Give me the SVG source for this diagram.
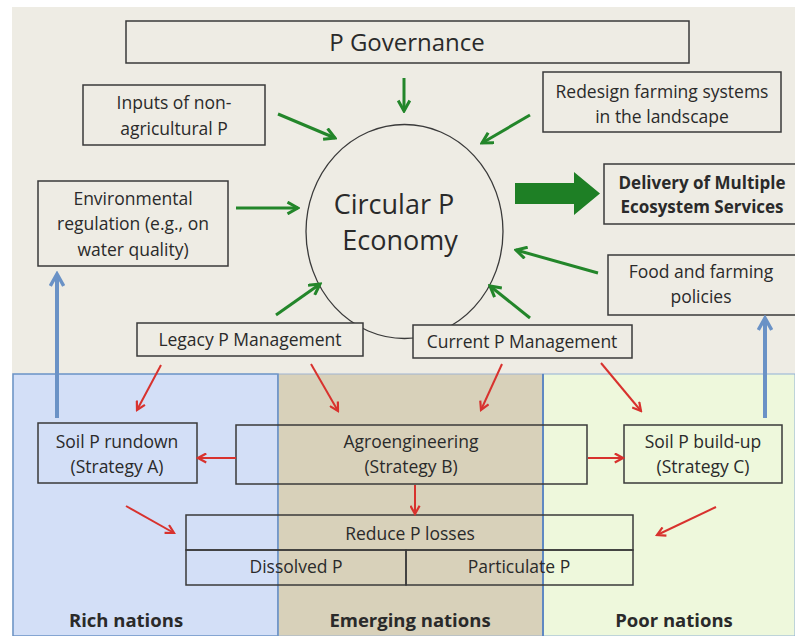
<svg xmlns="http://www.w3.org/2000/svg" width="795" height="636" viewBox="0 0 795 636">
<style>
.bx{fill:#eeece4;stroke:#3a3a3a;stroke-width:1.5}
.tb{fill:none;stroke:#3a3a3a;stroke-width:1.5}
text{font-family:"Open Sans","Liberation Sans",sans-serif;fill:#2a2a2a;text-anchor:middle}
.t{font-size:17.5px}
.b{font-size:17px;font-weight:bold}
.n{font-size:18.5px;font-weight:bold}
.g{stroke:#23862a;stroke-width:3;fill:none}
.r{stroke:#d8322e;stroke-width:2;fill:none}
.bl{stroke:#6a92c6;stroke-width:4;fill:none}
</style>
<defs>
<marker id="gh" viewBox="0 0 12 12" refX="10" refY="6" markerWidth="14" markerHeight="14" markerUnits="userSpaceOnUse" orient="auto"><path d="M1,1 L10,6 L1,11" fill="none" stroke="#23862a" stroke-width="2.6"/></marker>
<marker id="rh" viewBox="0 0 12 12" refX="10" refY="6" markerWidth="11" markerHeight="11" markerUnits="userSpaceOnUse" orient="auto"><path d="M1,1 L10,6 L1,11" fill="none" stroke="#d8322e" stroke-width="2.4"/></marker>
<marker id="bh" viewBox="0 0 12 12" refX="10" refY="6" markerWidth="16" markerHeight="16" markerUnits="userSpaceOnUse" orient="auto"><path d="M1,1 L10,6 L1,11" fill="none" stroke="#6a92c6" stroke-width="2.6"/></marker>
</defs>
<rect x="0" y="0" width="795" height="636" fill="#ffffff"/>
<rect x="12" y="7" width="783" height="629" fill="#eeece4"/>
<g id="regions">
<rect x="13" y="374" width="265" height="262" fill="#d3dff7" stroke="#6a92c6" stroke-width="1.5"/>
<rect x="278" y="374" width="265" height="262" fill="#d8d1ba" stroke="#9fb3cf" stroke-width="1"/>
<rect x="543" y="374" width="252" height="262" fill="#eef8dc" stroke="#8fb0d6" stroke-width="1"/>
<line x1="543" y1="374" x2="543" y2="636" stroke="#5f89c2" stroke-width="2"/>
<line x1="278" y1="374" x2="278" y2="636" stroke="#6a92c6" stroke-width="1.5"/>
</g>
<g id="governance"><rect class="bx" x="126" y="21" width="563" height="42"/><text x="407" y="51" font-size="24">P Governance</text></g>
<g id="inputs"><rect class="bx" x="83" y="85" width="182" height="60"/><text class="t" x="174" y="109">Inputs of non-</text><text class="t" x="174" y="135">agricultural P</text></g>
<g id="env"><rect class="bx" x="38" y="181" width="190" height="85"/><text class="t" x="133" y="205">Environmental</text><text class="t" x="133" y="230">regulation (e.g., on</text><text class="t" x="133" y="256">water quality)</text></g>
<g id="circular"><ellipse cx="404.5" cy="231.5" rx="98.5" ry="107" fill="#eeece4" stroke="#3a3a3a" stroke-width="1.3"/><text x="394" y="214" font-size="27">Circular P</text><text x="400" y="250" font-size="27">Economy</text></g>
<g id="redesign"><rect class="bx" x="543" y="72" width="238" height="60"/><text class="t" x="662" y="98">Redesign farming systems</text><text class="t" x="662" y="123">in the landscape</text></g>
<g id="delivery"><rect class="bx" x="604" y="164" width="195" height="60"/><text class="b" x="702" y="189">Delivery of Multiple</text><text class="b" x="702" y="213">Ecosystem Services</text></g>
<g id="food"><rect class="bx" x="608" y="255" width="190" height="60"/><text class="t" x="701" y="278">Food and farming</text><text class="t" x="701" y="303">policies</text></g>
<g id="legacy"><rect class="bx" x="137" y="323" width="226" height="33"/><text class="t" x="250" y="346">Legacy P Management</text></g>
<g id="current"><rect class="bx" x="413" y="325" width="219" height="33"/><text class="t" x="522" y="348">Current P Management</text></g>
<g id="soilA"><rect class="tb" x="38" y="423" width="159" height="60"/><text class="t" x="117" y="448">Soil P rundown</text><text class="t" x="117" y="473">(Strategy A)</text></g>
<g id="agro"><rect class="tb" x="236" y="425" width="351" height="59"/><text class="t" x="411" y="448">Agroengineering</text><text class="t" x="411" y="473">(Strategy B)</text></g>
<g id="soilC"><rect class="tb" x="624" y="425" width="158" height="58"/><text class="t" x="703" y="448">Soil P build-up</text><text class="t" x="703" y="473">(Strategy C)</text></g>
<g id="reduce"><rect class="tb" x="186" y="515" width="447" height="35"/><text class="t" x="410" y="540">Reduce P losses</text></g>
<g id="dissolved"><rect class="tb" x="186" y="550" width="220" height="35"/><text class="t" x="296" y="573">Dissolved P</text></g>
<g id="particulate"><rect class="tb" x="406" y="550" width="227" height="35"/><text class="t" x="519" y="573">Particulate P</text></g>
<g id="labels"><text class="n" x="126" y="627">Rich nations</text><text class="n" x="410" y="627">Emerging nations</text><text class="n" x="674" y="627">Poor nations</text></g>
<g id="connectors">
<line class="g" x1="404" y1="78" x2="404" y2="111" marker-end="url(#gh)"/>
<line class="g" x1="278" y1="114" x2="335" y2="138" marker-end="url(#gh)"/>
<line class="g" x1="530" y1="115" x2="482" y2="143" marker-end="url(#gh)"/>
<line class="g" x1="236" y1="208" x2="298" y2="208" marker-end="url(#gh)"/>
<line class="g" x1="598" y1="273" x2="516" y2="250" marker-end="url(#gh)"/>
<line class="g" x1="276" y1="315" x2="320" y2="284" marker-end="url(#gh)"/>
<line class="g" x1="530" y1="318" x2="490" y2="286" marker-end="url(#gh)"/>
<path d="M515,183 L574,183 L574,172 L600,193.5 L574,215 L574,204 L515,204 Z" fill="#1e7f25"/>
<line class="bl" x1="57" y1="418" x2="57" y2="274" marker-end="url(#bh)"/>
<line class="bl" x1="765" y1="418" x2="765" y2="318" marker-end="url(#bh)"/>
<line class="r" x1="161" y1="365" x2="137" y2="410" marker-end="url(#rh)"/>
<line class="r" x1="311" y1="364" x2="338" y2="411" marker-end="url(#rh)"/>
<line class="r" x1="502" y1="364" x2="481" y2="410" marker-end="url(#rh)"/>
<line class="r" x1="601" y1="363" x2="641" y2="411" marker-end="url(#rh)"/>
<line class="r" x1="236" y1="458" x2="198" y2="458" marker-end="url(#rh)"/>
<line class="r" x1="588" y1="458" x2="623" y2="458" marker-end="url(#rh)"/>
<line class="r" x1="415" y1="485" x2="415" y2="514" marker-end="url(#rh)"/>
<line class="r" x1="126" y1="506" x2="174" y2="533" marker-end="url(#rh)"/>
<line class="r" x1="716" y1="507" x2="657" y2="535" marker-end="url(#rh)"/>
</g>
</svg>
